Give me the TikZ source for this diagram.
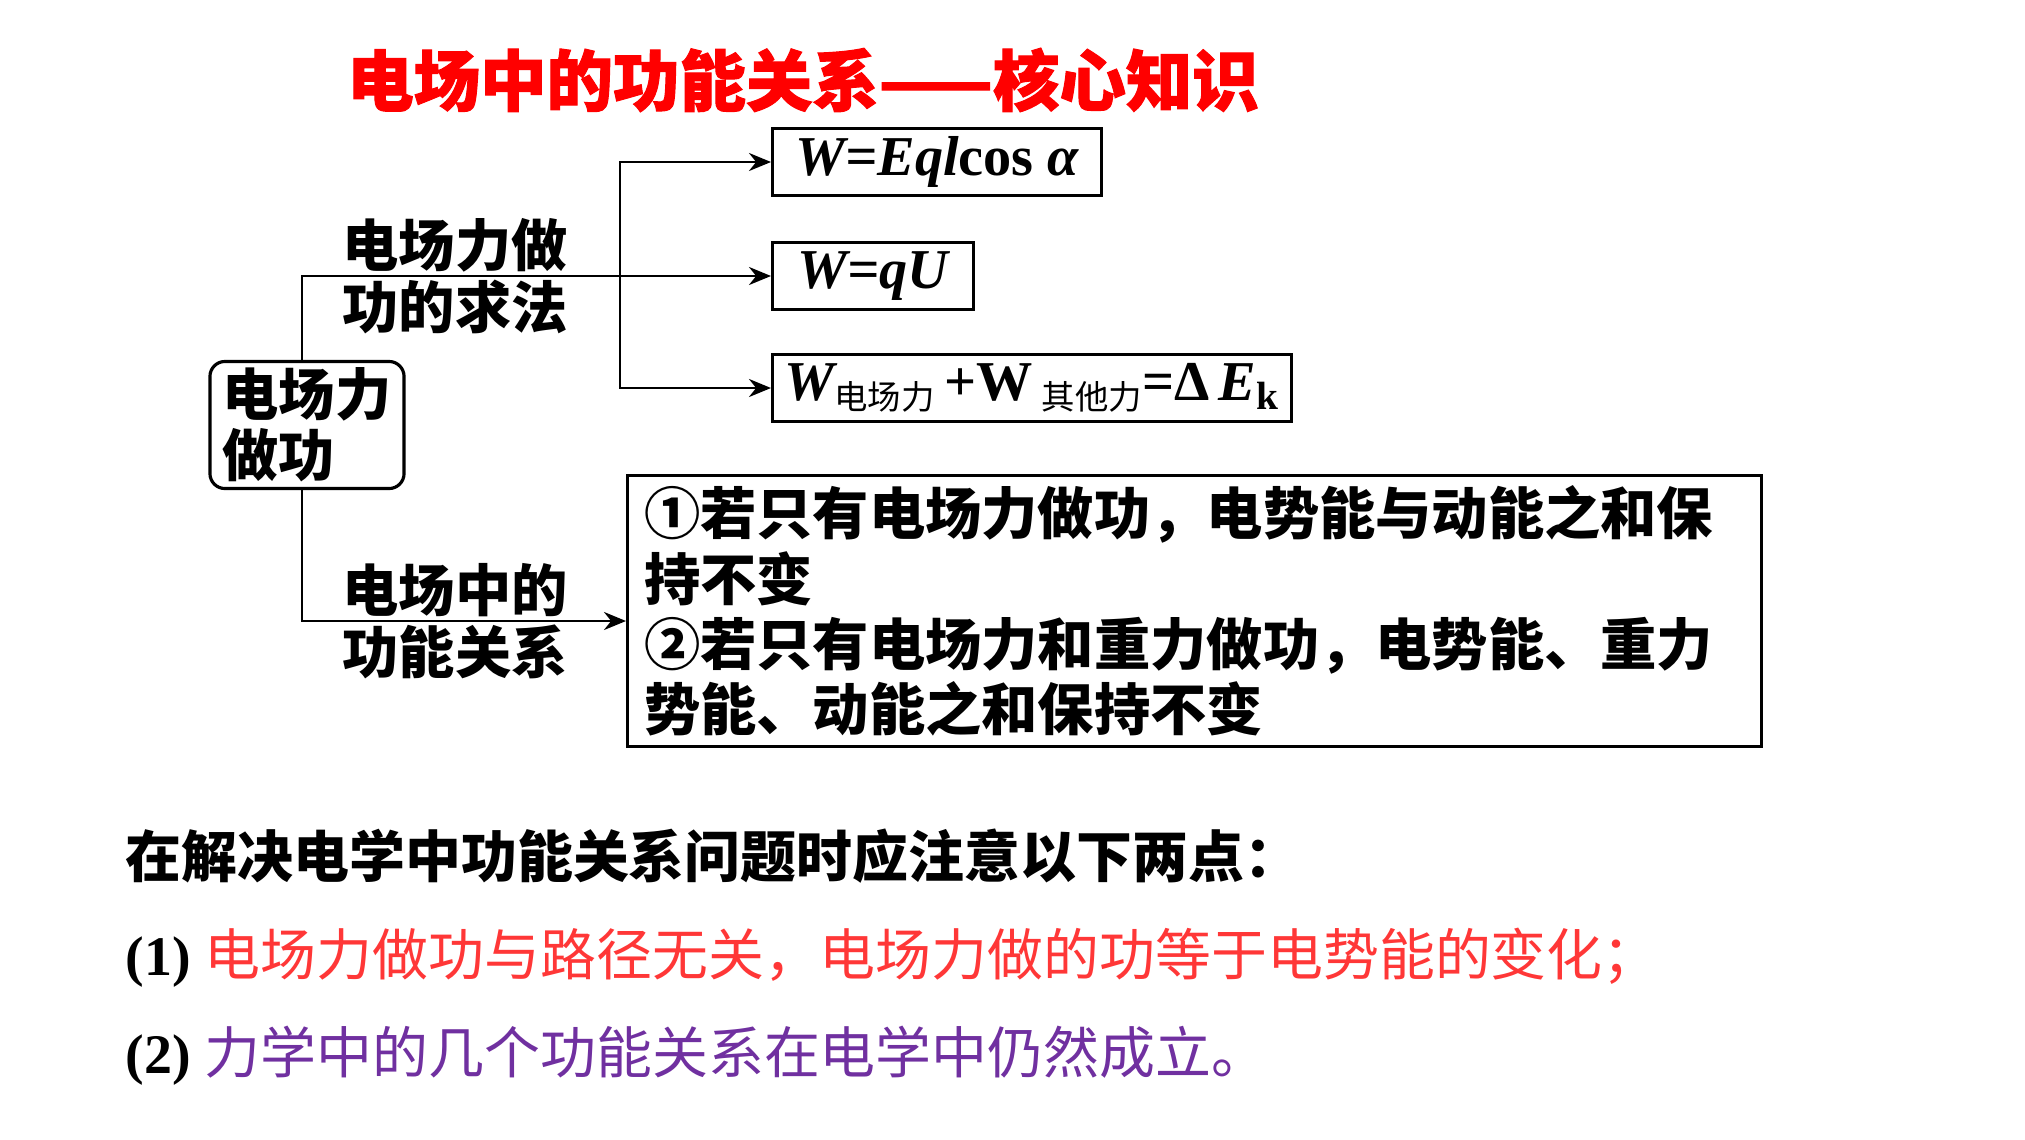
\documentclass[tikz,border=0pt]{standalone}
\usepackage{fontspec}
\setmainfont{Liberation Serif}
\newfontfamily\cjk{Noto Sans CJK SC}
\newfontfamily\cjkheavy{Noto Sans CJK SC}[BoldFeatures={FakeBold=1.5}]
\usepackage{tikz}
\usetikzlibrary{arrows.meta}
\definecolor{titlered}{RGB}{255,0,0}
\definecolor{notered}{RGB}{255,55,55}
\definecolor{notepurple}{RGB}{112,48,160}
\newcommand{\cjksub}[1]{\raisebox{-0.35ex}{\cjk\mdseries\fontsize{9.5}{10}\selectfont #1}}

\begin{document}
\begin{tikzpicture}[
    x=0.01cm, y=-0.01cm,
    every node/.style={inner sep=0pt},
    lbl/.style={font=\cjk\bfseries\fontsize{16}{17.6}\selectfont, align=left},
    fbox/.style={draw, line width=0.9pt, anchor=west, minimum height=0.67cm,
      font=\fontsize{16}{18}\selectfont\bfseries},
    conn/.style={line width=0.8pt, -{Stealth[length=2.2mm,width=1.8mm]}},
  ]
  \useasboundingbox (0,0) rectangle (2025,1139);
  \node[font=\cjkheavy\bfseries\fontsize{18.9}{20}\selectfont, text=titlered] (title) at (803,80) {电场中的功能关系——核心知识};
  \node[draw, line width=0.9pt, rounded corners=0.15cm, minimum width=1.94cm, minimum height=1.27cm,
    align=left, font=\cjk\bfseries\fontsize{16}{17.4}\selectfont] (root) at (307,425) {电场力\\做功};
  \node[fbox, minimum width=3.29cm] (eqcos) at (771,162) {\itshape W=Eql\upshape cos \itshape α};
  \node[fbox, minimum width=2.01cm] (equ) at (771,276) {\itshape W=qU};
  \node[fbox, minimum width=5.19cm] (ethm) at (771,388)
    {\itshape W\cjksub{电场力}\upshape\,+W\,\cjksub{其他力}=Δ\,\itshape E\textsubscript{\upshape k}};
  \node[draw, line width=0.9pt, anchor=north west, inner xsep=0.165cm, text width=11cm, minimum height=2.71cm,
    align=left, font=\cjk\bfseries\fontsize{16}{18.6}\selectfont] (bigbox) at (626,474)
    {①若只有电场力做功，电势能与动能之和保\\持不变\\②若只有电场力和重力做功，电势能、重力\\势能、动能之和保持不变};
  \node[lbl] (howto) at (455,276) {电场力做\\功的求法};
  \node[lbl] (relat) at (455,621) {电场中的\\功能关系};
  \coordinate (fork) at (620,276); % depart des trois fleches
  \draw[conn] ([xshift=-0.05cm]root.north) |- (equ.west);
  \draw[conn] (fork) |- (eqcos.west);
  \draw[conn] (fork) |- (ethm.west);
  \draw[conn] ([xshift=-0.05cm]root.south) |- (bigbox.west |- relat.center);
  % les deux remarques
  \node[anchor=west, font=\cjk\bfseries\fontsize{15.9}{17}\selectfont] (note) at (125,856) {在解决电学中功能关系问题时应注意以下两点：};
  \node[anchor=west, font=\fontsize{15.9}{17}\selectfont] (ptone) at (125,958)
    {\bfseries (1) {\cjk\mdseries\color{notered}电场力做功与路径无关，电场力做的功等于电势能的变化；}};
  \node[anchor=west, font=\fontsize{15.9}{17}\selectfont] (pttwo) at (125,1056)
    {\bfseries (2) {\cjk\mdseries\color{notepurple}力学中的几个功能关系在电学中仍然成立。}};
\end{tikzpicture}
\end{document}
